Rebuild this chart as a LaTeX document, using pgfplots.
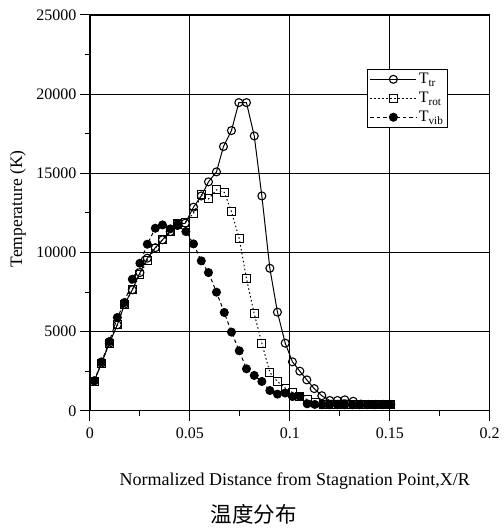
\documentclass[border=0pt]{standalone}
\usepackage{pgfplots}
\pgfplotsset{compat=1.18}
\usepackage{fontspec}
\setmainfont{Liberation Serif}
\newfontfamily\cjk{Noto Sans CJK SC}

\begin{document}
\begin{tikzpicture}
\begin{axis}[
    width=400pt, height=396pt, scale only axis,
    xmin=0, xmax=0.2,
    ymin=0, ymax=25000,
    xtick={0,0.05,0.1,0.15,0.2},
    xticklabels={0,0.05,0.1,0.15,0.2},
    ytick={0,5000,10000,15000,20000,25000},
    yticklabels={0,5000,10000,15000,20000,25000},
    scaled y ticks=false, scaled x ticks=false,
    minor x tick num=1, minor y tick num=1,
    tick pos=left, tick align=outside,
    major tick length=10pt, minor tick length=5pt,
    every tick/.style={black, line width=1pt},
    grid=major,
    major grid style={black, line width=1pt},
    axis line style={line width=1.2pt},
    /pgf/number format/assume math mode=true,
    tick label style={font=\fontsize{16}{19}\selectfont},
    xticklabel style={yshift=-4pt},
    xlabel={Normalized Distance from Stagnation Point,X/R},
    xlabel style={at={(rel axis cs:0.5125,0)}, anchor=center, yshift=-70pt,
        font=\fontsize{18}{21}\selectfont},
    ylabel={Temperature (K)},
    ylabel style={at={(rel axis cs:0,0.51)}, anchor=center, yshift=72pt,
        font=\fontsize{17.5}{21}\selectfont},
    legend style={at={(rel axis cs:0.694,0.864)}, anchor=north west,
        draw=black, line width=1pt, inner sep=2pt, row sep=3pt,
        font=\fontsize{16}{19}\selectfont,
        cells={anchor=west}},
    legend image code/.code={
        \draw[mark repeat=2,mark phase=2] plot coordinates {(0pt,0pt)(23pt,0pt)(46pt,0pt)};},
    clip=false,
]
\addplot[black, line width=1pt, mark=o, mark size=4pt, mark options={solid, line width=1.1pt}]
coordinates {
(0.0022,1890)(0.0058,3010)(0.0097,4270)(0.0137,5430)(0.0173,6730)(0.0212,7640)
(0.025,8730)(0.0287,9640)(0.0327,10300)(0.0363,10800)(0.0402,11320)(0.0438,11750)
(0.0477,11850)(0.0518,12860)(0.0557,13570)(0.0593,14460)(0.0633,15090)(0.0668,16690)
(0.0708,17700)(0.0745,19465)(0.0783,19465)(0.0822,17360)(0.086,13570)(0.09,9000)
(0.0938,6230)(0.0977,4270)(0.1013,3090)(0.105,2500)(0.1085,1950)(0.1122,1400)
(0.116,950)(0.12,650)(0.1238,650)(0.1275,690)(0.1317,600)(0.1355,420)(0.1393,400)
(0.143,400)(0.1468,400)(0.1505,400)
};
\addlegendentry{T\textsubscript{tr}}
\addplot[black, line width=1pt, dash pattern=on 1.5pt off 2.5pt, mark=square, mark size=4pt, mark options={solid, line width=1.1pt}]
coordinates {
(0.0022,1850)(0.0058,3010)(0.0097,4270)(0.0137,5430)(0.0173,6730)(0.0212,7640)
(0.025,8590)(0.0287,9500)(0.0327,10270)(0.0363,10800)(0.0402,11320)(0.0438,11800)
(0.0477,11900)(0.0518,12480)(0.0557,13640)(0.0593,13380)(0.0633,13950)(0.0672,13800)
(0.0708,12580)(0.0747,10880)(0.0783,8350)(0.0822,6120)(0.086,4270)(0.09,2420)
(0.0938,1850)(0.0977,1430)(0.1013,1160)(0.105,900)(0.109,690)(0.113,500)
(0.1168,420)(0.1205,400)(0.1243,400)(0.128,400)(0.1318,400)(0.1355,400)
(0.1393,400)(0.143,400)(0.1468,400)(0.1505,400)
};
\addlegendentry{T\textsubscript{rot}}
\addplot[black, line width=1pt, dash pattern=on 3.5pt off 3pt, mark=*, mark size=4pt, mark options={solid}]
coordinates {
(0.0022,1890)(0.0058,3090)(0.0097,4370)(0.0137,5890)(0.0173,6840)(0.0212,8310)
(0.025,9320)(0.0287,10520)(0.0327,11530)(0.0363,11740)(0.0402,11490)(0.0438,11700)
(0.048,11320)(0.0518,10540)(0.0557,9470)(0.0593,8730)(0.0633,7490)(0.0672,6210)
(0.0708,4970)(0.0747,3790)(0.0783,2650)(0.0822,2230)(0.086,1850)(0.09,1280)
(0.0938,1050)(0.0977,1120)(0.1013,900)(0.105,900)(0.1087,440)(0.1125,400)
(0.1162,380)(0.12,380)(0.1238,380)(0.1275,380)(0.1313,380)(0.135,380)
(0.1388,380)(0.1425,380)(0.1463,380)(0.15,380)
};
\addlegendentry{T\textsubscript{vib}}
\node[font=\cjk\fontsize{21.5}{24}\selectfont, anchor=center]
    at ([yshift=-104pt]rel axis cs:0.41,0) {温度分布};
% keep the same margins as the reference
\path ([xshift=-90pt,yshift=-117pt]rel axis cs:0,0) rectangle ([xshift=12pt,yshift=15pt]rel axis cs:1,1);
\end{axis}
\end{tikzpicture}
\end{document}
